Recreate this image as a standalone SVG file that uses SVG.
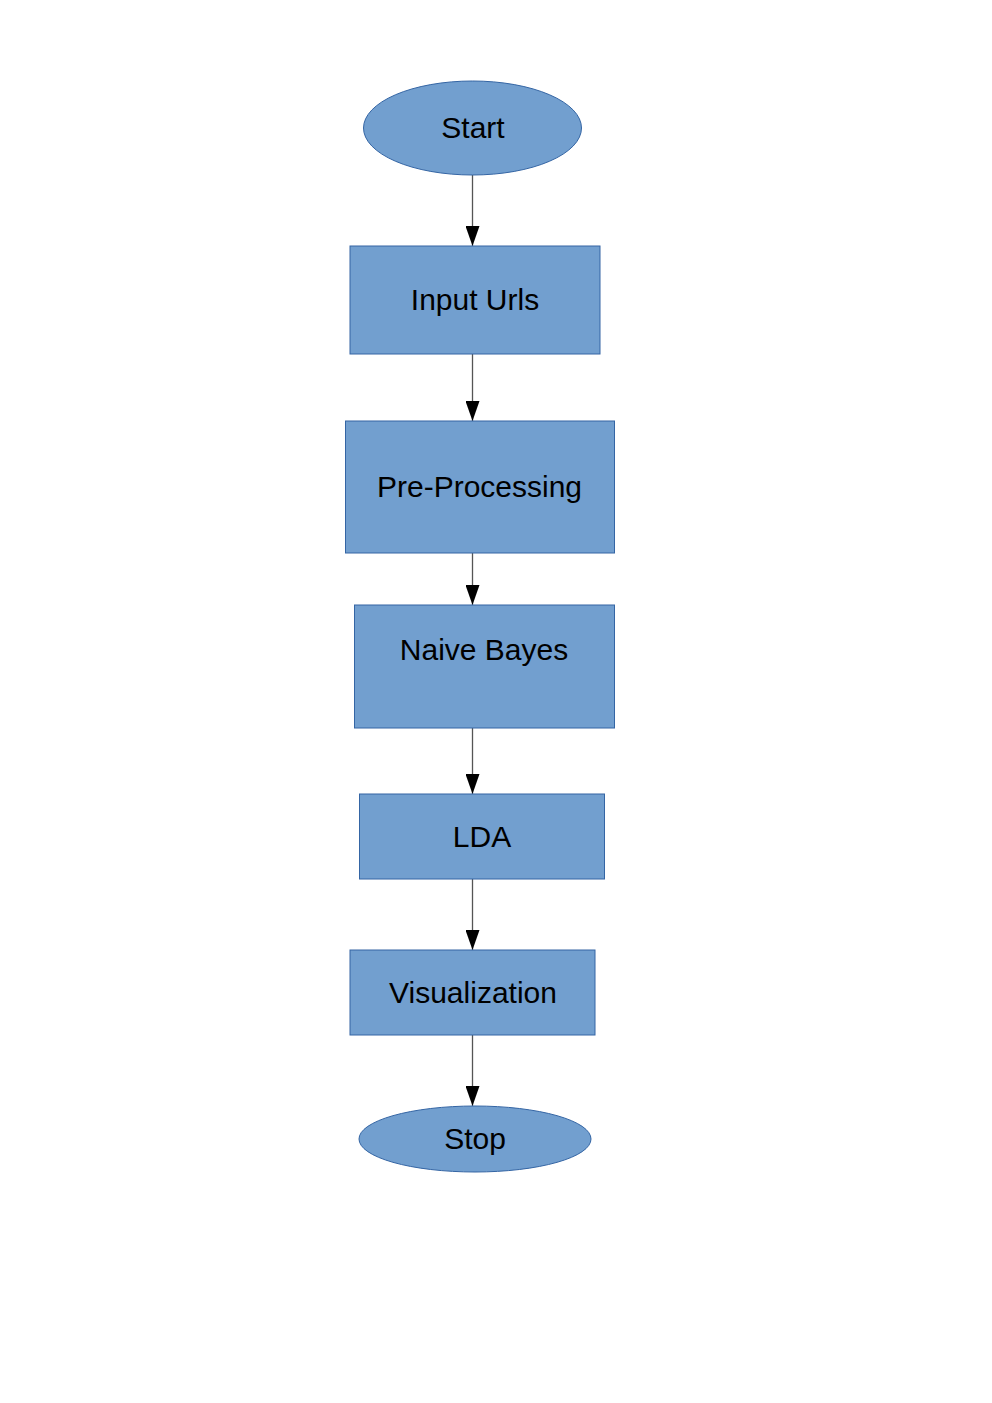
<svg xmlns="http://www.w3.org/2000/svg" width="992" height="1403" viewBox="0 0 992 1403">
<style>
.n{fill:#729fcf;stroke:#3465a4;stroke-width:1}
.t{font-family:"Liberation Sans",Arial,sans-serif;font-size:30px;fill:#000;text-anchor:middle}
.c{stroke:#555;stroke-width:1.3;fill:none}
</style>
<defs>
<marker id="ah" viewBox="0 0 20 14" refX="20" refY="7" markerWidth="20" markerHeight="14" markerUnits="userSpaceOnUse" orient="auto">
<path d="M0,0 L20,7 L0,14 Z" fill="#000"/>
</marker>
</defs>
<rect width="992" height="1403" fill="#fff"/>
<g id="connectors">
<path class="c" d="M472.5,175 V246" marker-end="url(#ah)"/>
<path class="c" d="M472.5,354 V421" marker-end="url(#ah)"/>
<path class="c" d="M472.5,553 V605" marker-end="url(#ah)"/>
<path class="c" d="M472.5,728 V794" marker-end="url(#ah)"/>
<path class="c" d="M472.5,879 V950" marker-end="url(#ah)"/>
<path class="c" d="M472.5,1035 V1106" marker-end="url(#ah)"/>
</g>
<g id="start"><ellipse class="n" cx="472.5" cy="128" rx="109" ry="47"/><text class="t" x="473" y="138">Start</text></g>
<g id="input"><rect class="n" x="350" y="246" width="250" height="108"/><text class="t" x="475" y="310">Input Urls</text></g>
<g id="preprocessing"><rect class="n" x="345.5" y="421" width="269" height="132"/><text class="t" x="479.5" y="497">Pre-Processing</text></g>
<g id="naivebayes"><rect class="n" x="354.5" y="605" width="260" height="123"/><text class="t" x="484" y="660">Naive Bayes</text></g>
<g id="lda"><rect class="n" x="359.5" y="794" width="245" height="85"/><text class="t" x="482" y="847">LDA</text></g>
<g id="visualization"><rect class="n" x="350" y="950" width="245" height="85"/><text class="t" x="473" y="1003">Visualization</text></g>
<g id="stop"><ellipse class="n" cx="475" cy="1139" rx="116" ry="33"/><text class="t" x="475" y="1149">Stop</text></g>
</svg>
